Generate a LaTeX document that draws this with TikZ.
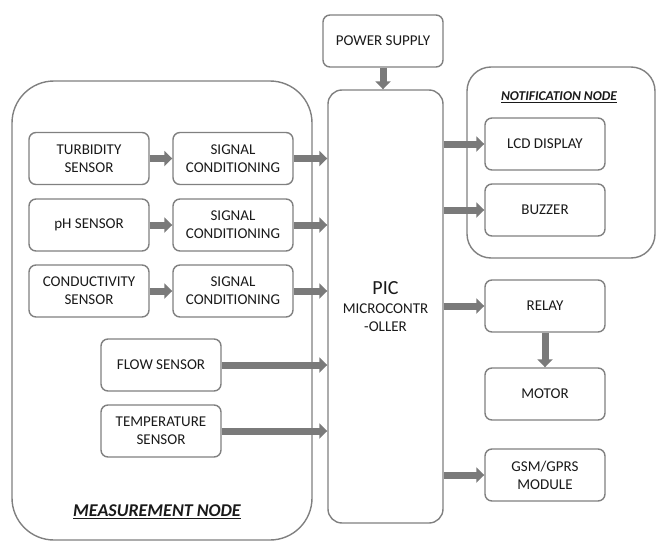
\documentclass[tikz,border=0pt]{standalone}
\usepackage{fontspec}
\setmainfont{Carlito}
\usetikzlibrary{arrows.meta}
\definecolor{bgray}{HTML}{808080}
\definecolor{agray}{HTML}{7A7A7A}
\definecolor{tgray}{HTML}{1A1A1A}
\tikzset{
  blk/.style={draw=bgray, line width=1.4pt, rounded corners=7pt, fill=white,
    minimum width=120pt, minimum height=52pt, inner sep=0pt, align=center,
    text=tgray, font=\fontsize{15}{18}\selectfont},
  grp/.style={draw=bgray, line width=1.4pt, inner sep=0pt},
  bigarrow/.style={draw=agray, line width=7pt, -{Triangle[width=15pt,length=8pt]}},
}
\begin{document}
\begin{tikzpicture}[x=1pt,y=-1pt]
\useasboundingbox (0,0) rectangle (657,541);
% containers
\node[grp, rounded corners=42pt, minimum width=300pt, minimum height=459pt] (meas) at (162,310.5) {};
\node[grp, rounded corners=24pt, minimum width=188pt, minimum height=191pt] (notif) at (561,162.5) {};
\node[grp, rounded corners=14pt, minimum width=115pt, minimum height=433pt] (pic) at (385.5,306.5) {};
\node[align=center, text=tgray, font=\fontsize{15}{18.5}\selectfont] (pictext) at (385.5,307) {{\fontsize{20}{20}\selectfont PIC}\\MICROCONTR\\-OLLER};
\node[text=tgray, font=\fontsize{18}{20}\selectfont\bfseries\itshape] (meastitle) at (157,512) {\underline{MEASUREMENT NODE}};
\node[text=tgray, font=\fontsize{13.5}{15}\selectfont\bfseries\itshape] (notiftitle) at (559,97) {\underline{NOTIFICATION NODE}};
% blocks
\node[blk] (turb) at (89,158.5) {TURBIDITY\\SENSOR};
\node[blk] (sc1) at (233,158.5) {SIGNAL\\CONDITIONING};
\node[blk] (ph) at (89,225) {pH SENSOR};
\node[blk] (sc2) at (233,225) {SIGNAL\\CONDITIONING};
\node[blk] (cond) at (89,291) {CONDUCTIVITY\\SENSOR};
\node[blk] (sc3) at (233,291) {SIGNAL\\CONDITIONING};
\node[blk] (flow) at (161,365) {FLOW SENSOR};
\node[blk] (temp) at (161,431) {TEMPERATURE\\SENSOR};
\node[blk] (power) at (383,41) {POWER SUPPLY};
\node[blk] (lcd) at (545,144) {LCD DISPLAY};
\node[blk] (buzz) at (545,210) {BUZZER};
\node[blk] (relay) at (545,306) {RELAY};
\node[blk] (motor) at (545,394) {MOTOR};
\node[blk] (gsm) at (545,475) {GSM/GPRS\\MODULE};
% arrows
\draw[bigarrow] (turb) -- (sc1);
\draw[bigarrow] (ph) -- (sc2);
\draw[bigarrow] (cond) -- (sc3);
\draw[bigarrow] (sc1.east) -- (sc1.east -| pic.west);
\draw[bigarrow] (sc2.east) -- (sc2.east -| pic.west);
\draw[bigarrow] (sc3.east) -- (sc3.east -| pic.west);
\draw[bigarrow] (flow.east) -- (flow.east -| pic.west);
\draw[bigarrow] (temp.east) -- (temp.east -| pic.west);
\draw[bigarrow] (power.south) -- (power.south |- pic.north);
\draw[bigarrow] (lcd.west -| pic.east) -- (lcd.west);
\draw[bigarrow] (buzz.west -| pic.east) -- (buzz.west);
\draw[bigarrow] (relay.west -| pic.east) -- (relay.west);
\draw[bigarrow] (gsm.west -| pic.east) -- (gsm.west);
\draw[bigarrow] (relay) -- (motor);
\end{tikzpicture}
\end{document}
